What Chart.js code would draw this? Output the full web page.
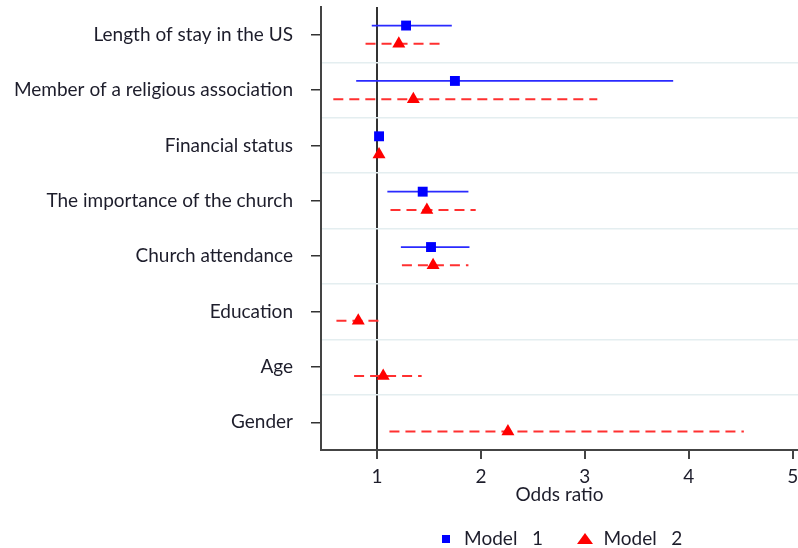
<!DOCTYPE html>
<html>
<head>
<meta charset="utf-8">
<script src="https://cdn.jsdelivr.net/npm/chart.js@4.4.1/dist/chart.umd.min.js"></script>
<style>
  html, body { margin: 0; padding: 0; background: #fff; }
  #wrap { width: 798px; height: 548px; }
</style>
</head>
<body>
<div id="wrap"><canvas id="c"></canvas></div>
<script>
// categories top to bottom
const categories = [
  'Length of stay in the US',
  'Member of a religious association',
  'Financial status',
  'The importance of the church',
  'Church attendance',
  'Education',
  'Age',
  'Gender',
];

// Model 1: odds ratio and 95% CI (null = not in model)
const m1Or = [1.28, 1.75, 1.02, 1.44, 1.52, null, null, null];
const m1Lo = [0.95, 0.80, 1.00, 1.10, 1.23, null, null, null];
const m1Hi = [1.72, 3.85, 1.04, 1.88, 1.89, null, null, null];

// Model 2
const m2Or = [1.21, 1.35, 1.02, 1.48, 1.54, 0.82, 1.06, 2.26];
const m2Lo = [0.89, 0.58, 1.00, 1.13, 1.24, 0.61, 0.78, 1.12];
const m2Hi = [1.65, 3.12, 1.04, 1.95, 1.88, 1.07, 1.43, 4.53];

const xTicks = [1, 2, 3, 4, 5];
const legendLabels = ['Model   1', 'Model   2'];

const FONT = 'Lato, "Open Sans", sans-serif';
const TXT = '#1d1d2b';
const BLUE = '#0000ff';
const RED = '#ff0000';
const OFF = 0.165;

function pts(orArr, dy) {
  const out = [];
  orArr.forEach((v, i) => { if (v !== null) out.push({ x: v, y: i + dy }); });
  return out;
}

// small legend markers
function marker(kind) {
  const cv = document.createElement('canvas');
  const g = cv.getContext('2d');
  if (kind === 'rect') {
    cv.width = 8; cv.height = 8;
    g.fillStyle = BLUE;
    g.fillRect(0, 0, 8, 8);
  } else {
    cv.width = 16; cv.height = 11;
    g.fillStyle = RED;
    g.beginPath();
    g.moveTo(8, 0); g.lineTo(16, 11); g.lineTo(0, 11);
    g.closePath();
    g.fill();
  }
  return cv;
}
const legendMarks = [marker('rect'), marker('tri')];

const datasets = [
  {
    label: legendLabels[0], type: 'scatter', data: pts(m1Or, -OFF),
    pointStyle: 'rect', pointRadius: 7, backgroundColor: BLUE, borderColor: BLUE, borderWidth: 0,
  },
  {
    label: legendLabels[1], type: 'scatter', data: pts(m2Or, OFF),
    pointStyle: 'triangle', pointRadius: 7.5, backgroundColor: RED, borderColor: RED, borderWidth: 0,
  },
];

categories.forEach((c, i) => {
  if (m1Or[i] !== null) {
    datasets.push({
      label: '_ci', type: 'line',
      data: [{ x: m1Lo[i], y: i - OFF }, { x: m1Hi[i], y: i - OFF }],
      borderColor: '#2a2aff', borderWidth: 1.7, pointRadius: 0, fill: false,
    });
  }
  if (m2Or[i] !== null) {
    datasets.push({
      label: '_ci', type: 'line',
      data: [{ x: m2Lo[i], y: i + OFF }, { x: m2Hi[i], y: i + OFF }],
      borderColor: '#ff3030', borderWidth: 2, borderDash: [10, 6], pointRadius: 0, fill: false,
    });
  }
});

// centre the legend under the plot area rather than the canvas
const legendShift = {
  id: 'legendShift',
  afterLayout(chart) {
    const lg = chart.legend;
    const ca = chart.chartArea;
    const dx = (ca.left + ca.right) / 2 - (lg.left + lg.right) / 2;
    lg.left += dx;
    lg.right += dx;
  },
};

function noEdgePad(s) {
  s.paddingLeft = 0; s.paddingRight = 0; s.paddingTop = 0; s.paddingBottom = 0;
}

new Chart(document.getElementById('c'), {
  type: 'scatter',
  data: { datasets },
  plugins: [legendShift],
  options: {
    responsive: true,
    maintainAspectRatio: false,
    animation: false,
    layout: { autoPadding: false, padding: { top: 7, left: 4, right: 0, bottom: 0 } },
    plugins: {
      tooltip: { enabled: false },
      legend: {
        position: 'bottom',
        maxHeight: 52,
        labels: {
          generateLabels: () => legendLabels.map((t, k) => ({
            text: t, pointStyle: legendMarks[k], fontColor: TXT,
            fillStyle: k ? RED : BLUE, strokeStyle: k ? RED : BLUE, lineWidth: 0,
            hidden: false, datasetIndex: k,
          })),
          usePointStyle: true,
          pointStyleWidth: 18,
          boxHeight: 10,
          color: TXT,
          font: { family: FONT, size: 19 },
          padding: 33,
        },
      },
    },
    scales: {
      x: {
        type: 'linear',
        min: 0.4615,
        max: 5.051,
        afterBuildTicks: (s) => { s.ticks = xTicks.map(v => ({ value: v })); },
        afterFit: (s) => { s.height = 46; noEdgePad(s); },
        border: { color: '#444', width: 2 },
        grid: {
          color: (ctx) => ctx.tick && ctx.tick.value === 1 ? '#333' : 'rgba(0,0,0,0)',
          lineWidth: 2,
          tickColor: '#444',
          tickLength: 15,
          tickBorderDash: [8, 40],
        },
        ticks: { color: TXT, font: { family: FONT, size: 19 }, padding: 0 },
        title: {
          display: true, text: 'Odds ratio', color: TXT,
          font: { family: FONT, size: 19 }, padding: { top: 0, bottom: -10 },
        },
      },
      y: {
        type: 'linear',
        reverse: true,
        min: -0.5,
        max: 7.5,
        afterBuildTicks: (s) => {
          const t = [];
          for (let k = -1; k <= 15; k++) t.push({ value: k / 2 });
          s.ticks = t;
        },
        afterFit: (s) => { s.width = 317; noEdgePad(s); },
        border: { color: '#444', width: 2 },
        grid: {
          color: (ctx) => {
            const v = ctx.tick ? ctx.tick.value : 0;
            return Number.isInteger(v) ? 'rgba(0,0,0,0)' : '#e4eef0';
          },
          lineWidth: 1.5,
          tickColor: (ctx) => ctx.tick && Number.isInteger(ctx.tick.value) ? '#333' : 'rgba(0,0,0,0)',
          tickLength: 28,
          tickBorderDash: [0, 18, 10, 0],
        },
        ticks: {
          autoSkip: false,
          color: TXT,
          font: { family: FONT, size: 19 },
          padding: 0,
          callback: (v) => {
            if (v === -0.5 || v === 7.5) return null;
            return Number.isInteger(v) ? categories[v] : '';
          },
        },
      },
    },
  },
});
</script>
</body>
</html>
